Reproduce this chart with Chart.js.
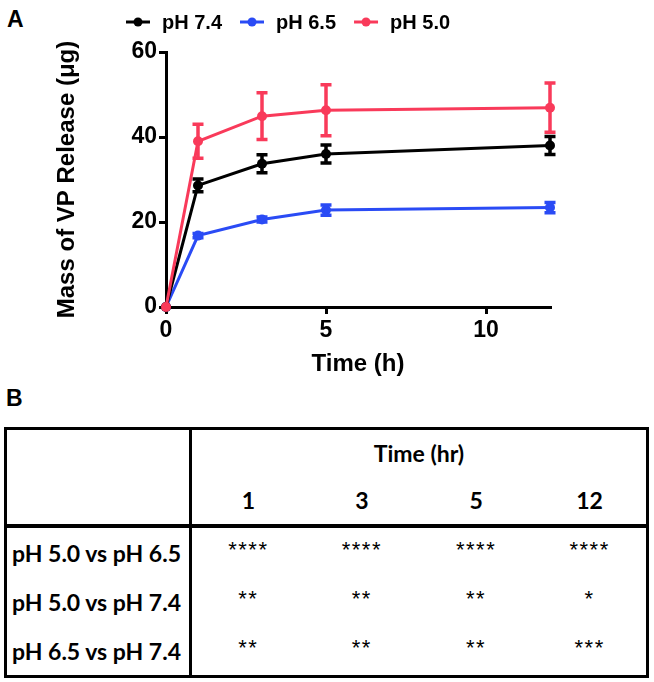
<!DOCTYPE html>
<html>
<head>
<meta charset="utf-8">
<script src="https://cdn.jsdelivr.net/npm/chart.js@4.4.0/dist/chart.umd.min.js"></script>
<style>
body { margin:0; background:#fff; width:654px; height:682px; position:relative; overflow:hidden; font-family:"Liberation Sans", Arial, sans-serif; }
.panel { position:absolute; font-weight:bold; font-size:23px; line-height:1; }
#wrap { position:absolute; left:0; top:0; width:654px; height:380px; }
#sig { position:absolute; left:4px; top:427px; width:645px; border-collapse:collapse; table-layout:fixed; border:3px solid #000;
  font-family:Lato, "Liberation Sans", sans-serif; color:#000; }
#sig td { padding:0; text-align:center; vertical-align:middle; }
#sig tr.h1 td { height:46px; }
#sig tr.h2 td { height:48px; border-bottom:4px solid #000; }
#sig tr.row td { height:49px; }
#sig td.lab { text-align:left; padding-left:5px; border-right:3px solid #000; font-weight:bold; font-size:23px; white-space:nowrap; }
#sig td.corner { border-right:3px solid #000; border-bottom:4px solid #000; }
#sig .hd { font-weight:bold; font-size:23px; }
#sig .st { font-family:"Liberation Sans", Arial, sans-serif; font-size:22px; letter-spacing:1.5px; }
#sig .st span { position:relative; top:-3px; }
</style>
</head>
<body>
<div class="panel" style="left:7px;top:8px">A</div>
<div id="wrap"><canvas id="release" width="654" height="380"></canvas></div>
<div class="panel" style="left:6px;top:387px">B</div>
<table id="sig"></table>

<script>
// chart A data
const times = [0, 1, 3, 5, 12];
const seriesNames = ['pH 7.4', 'pH 6.5', 'pH 5.0'];
const seriesColors = ['#000000', '#2a4bf5', '#f93a5a'];
const ph74 = [0, 28.6, 33.7, 36.0, 38.0];
const ph74Err = [0, 1.5, 2.1, 2.1, 2.1];
const ph65 = [0, 16.8, 20.6, 22.8, 23.4];
const ph65Err = [0, 0.5, 0.6, 1.2, 1.2];
const ph50 = [0, 39.0, 44.9, 46.3, 46.9];
const ph50Err = [0, 4.0, 5.5, 6.0, 5.8];
const xTicks = [0, 5, 10];
const yTicks = [0, 20, 40, 60];

// table B data
const tableTimes = ['1', '3', '5', '12'];
const comparisons = ['pH 5.0 vs pH 6.5', 'pH 5.0 vs pH 7.4', 'pH 6.5 vs pH 7.4'];
const significance = [
  ['****', '****', '****', '****'],
  ['**', '**', '**', '*'],
  ['**', '**', '**', '***']
];

const seriesValues = [ph74, ph65, ph50];
const seriesErrors = [ph74Err, ph65Err, ph50Err];
const drawOrder = [1, 2, 0];

// error bars drawn with each dataset so layering follows the lines
const errorBars = {
  id: 'errorBars',
  afterDatasetDraw(chart, args) {
    const errs = seriesErrors[args.index];
    const vals = seriesValues[args.index];
    const {ctx, scales: {x, y}} = chart;
    ctx.save();
    ctx.strokeStyle = seriesColors[args.index];
    ctx.lineWidth = 3.5;
    errs.forEach((e, i) => {
      if (!e) return;
      const px = x.getPixelForValue(times[i]);
      const top = y.getPixelForValue(vals[i] + e);
      const bot = y.getPixelForValue(vals[i] - e);
      ctx.beginPath();
      ctx.moveTo(px, top); ctx.lineTo(px, bot);
      ctx.moveTo(px - 5.5, top); ctx.lineTo(px + 5.5, top);
      ctx.moveTo(px - 5.5, bot); ctx.lineTo(px + 5.5, bot);
      ctx.stroke();
    });
    ctx.restore();
  }
};

// legend with line + dot markers
const lineLegend = {
  id: 'lineLegend',
  afterDraw(chart, args, opts) {
    const ctx = chart.ctx;
    ctx.save();
    ctx.font = 'bold 20px "Liberation Sans", Arial, sans-serif';
    ctx.textBaseline = 'middle';
    let x = opts.x;
    const y = opts.y;
    chart.data.datasets.forEach((ds, i) => {
      ctx.strokeStyle = seriesColors[i];
      ctx.lineWidth = 3;
      ctx.beginPath(); ctx.moveTo(x, y); ctx.lineTo(x + 24, y); ctx.stroke();
      ctx.fillStyle = seriesColors[i];
      ctx.beginPath(); ctx.arc(x + 12, y, 4.5, 0, Math.PI * 2); ctx.fill();
      ctx.fillStyle = '#000';
      ctx.fillText(ds.label, x + 36, y + 1);
      x += 36 + ctx.measureText(ds.label).width + 18;
    });
    ctx.restore();
  }
};

const axisFont = {family: '"Liberation Sans", Arial, sans-serif', size: 23, weight: 'bold'};
const titleFont = {family: '"Liberation Sans", Arial, sans-serif', size: 24, weight: 'bold'};

new Chart(document.getElementById('release'), {
  type: 'line',
  data: {
    datasets: seriesNames.map((name, i) => ({
      label: name,
      data: times.map((t, j) => ({x: t, y: seriesValues[i][j]})),
      borderColor: seriesColors[i],
      backgroundColor: seriesColors[i],
      borderWidth: 3,
      pointRadius: 5,
      pointHoverRadius: 5,
      pointBorderWidth: 0,
      tension: 0,
      clip: false,
      order: drawOrder[i]
    }))
  },
  options: {
    responsive: false,
    animation: false,
    layout: {padding: {left: 50, right: 104, top: 52, bottom: 1}},
    plugins: {
      legend: {display: false},
      tooltip: {enabled: false},
      lineLegend: {x: 126, y: 22}
    },
    scales: {
      x: {
        type: 'linear', min: 0, max: 12,
        afterBuildTicks: s => { s.ticks = xTicks.map(v => ({value: v})); },
        afterFit: s => { s.height = 72; },
        border: {color: '#000', width: 3},
        grid: {drawOnChartArea: false, color: '#000', tickLength: 7, lineWidth: 3},
        ticks: {color: '#000', font: axisFont, padding: 3, maxRotation: 0},
        title: {display: true, text: 'Time (h)', color: '#000', font: titleFont, padding: {top: 0, bottom: 0}}
      },
      y: {
        min: 0, max: 60,
        afterBuildTicks: s => { s.ticks = yTicks.map(v => ({value: v})); },
        afterFit: s => { s.width = 116; },
        border: {color: '#000', width: 3},
        grid: {drawOnChartArea: false, color: '#000', tickLength: 7, lineWidth: 3},
        ticks: {color: '#000', font: axisFont, padding: 2},
        title: {display: true, text: 'Mass of VP Release (μg)', color: '#000', font: titleFont, padding: {top: 3, bottom: 0}}
      }
    }
  },
  plugins: [errorBars, lineLegend]
});

// table B
const tbl = document.getElementById('sig');
let html = '<colgroup><col style="width:185px">' + tableTimes.map(() => '<col>').join('') + '</colgroup>';
html += '<tr class="h1"><td class="corner" rowspan="2"></td><td class="hd" colspan="' + tableTimes.length + '">Time (hr)</td></tr>';
html += '<tr class="h2">' + tableTimes.map(t => '<td class="hd">' + t + '</td>').join('') + '</tr>';
comparisons.forEach((c, r) => {
  html += '<tr class="row"><td class="lab">' + c + '</td>' +
    significance[r].map(s => '<td class="st"><span>' + s + '</span></td>').join('') + '</tr>';
});
tbl.innerHTML = html;
</script>
</body>
</html>
